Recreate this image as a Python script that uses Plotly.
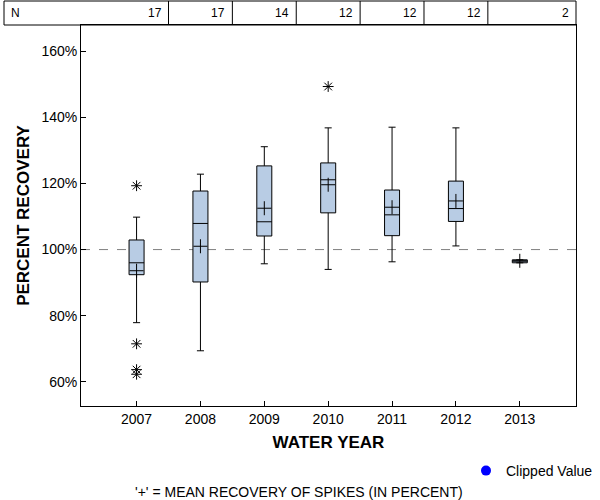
import plotly.graph_objects as go

years = ["2007", "2008", "2009", "2010", "2011", "2012", "2013"]
n_counts = [17, 17, 14, 12, 12, 12, 2]
q1 = [92.4, 90.2, 104.1, 111.1, 104.2, 108.5, 96.0]
median = [96.0, 107.9, 108.4, 121.1, 110.5, 112.4, 96.5]
q3 = [102.9, 117.7, 125.3, 126.2, 118.0, 120.7, 96.9]
lower = [77.9, 69.4, 95.7, 94.0, 96.3, 101.1, 96.0]
upper = [109.8, 122.8, 131.1, 136.8, 137.0, 136.8, 96.9]
means = [93.6, 101.0, 112.5, 119.6, 112.8, 114.7, 96.6]
outlier_years = ["2007", "2007", "2007", "2007", "2010"]
outlier_vals = [119.3, 71.5, 63.7, 62.3, 149.3]
y_ticks = [60, 80, 100, 120, 140, 160]
y_tick_labels = ["60%", "80%", "100%", "120%", "140%", "160%"]

FONT = "Liberation Sans, Arial, sans-serif"
XR = [-0.87, 6.88]
YR = [52.7, 167.9]
ML, MR, MT, MB = 81, 24, 25, 94
PW, PH = 600 - ML - MR, 500 - MT - MB


def px_x(p):
    return (p - ML) / PW


def px_y(p):
    return (500 - MB - p) / PH


fig = go.Figure()
fig.add_trace(go.Box(
    x=years, q1=q1, median=median, q3=q3,
    lowerfence=lower, upperfence=upper,
    fillcolor="#b8cce4", line=dict(color="black", width=1),
    width=0.235, whiskerwidth=0.47, boxpoints=False,
    showlegend=False,
))
fig.add_trace(go.Scatter(
    x=years, y=means, mode="markers", showlegend=False,
    marker=dict(symbol="cross-thin", size=10, color="black",
                line=dict(color="black", width=1)),
))
fig.add_trace(go.Scatter(
    x=outlier_years, y=outlier_vals, mode="markers", showlegend=False,
    marker=dict(symbol="asterisk-open", size=9, color="black",
                line=dict(color="black", width=1)),
))
fig.add_trace(go.Scatter(
    x=[None], y=[None], mode="markers", name="Clipped Value",
    marker=dict(symbol="circle", size=10, color="blue"),
))

shapes = [
    dict(type="line", xref="paper", yref="y", x0=0, x1=1, y0=100, y1=100,
         line=dict(color="#808080", width=1, dash="dash"), layer="below"),
    dict(type="rect", xref="paper", yref="paper", x0=px_x(4), x1=1,
         y0=1, y1=px_y(1), line=dict(color="black", width=1)),
]
annotations = [
    dict(text="N", xref="paper", yref="paper", x=px_x(9), y=px_y(13),
         xanchor="left", yanchor="middle", showarrow=False,
         font=dict(family=FONT, size=12, color="black")),
]
span = XR[1] - XR[0]
for i, n in enumerate(n_counts):
    right = (i + 0.5 - XR[0]) / span if i < len(n_counts) - 1 else 1.0
    if i < len(n_counts) - 1:
        shapes.append(dict(type="line", xref="paper", yref="paper",
                           x0=right, x1=right, y0=1, y1=px_y(1),
                           line=dict(color="black", width=1)))
    annotations.append(dict(text=str(n), xref="paper", yref="paper",
                            x=right, y=px_y(13), xanchor="right",
                            yanchor="middle", xshift=-5, showarrow=False,
                            font=dict(family=FONT, size=12, color="black")))
annotations.append(dict(
    text="'+' = MEAN RECOVERY OF SPIKES (IN PERCENT)", xref="paper",
    yref="paper", x=px_x(299), y=px_y(492), xanchor="center",
    yanchor="middle", showarrow=False,
    font=dict(family=FONT, size=14, color="black")))

fig.update_layout(
    width=600, height=500,
    margin=dict(l=ML, r=MR, t=MT, b=MB, autoexpand=False),
    paper_bgcolor="white", plot_bgcolor="white",
    font=dict(family=FONT, size=14, color="black"),
    shapes=shapes, annotations=annotations,
    legend=dict(x=px_x(466), y=px_y(455), xanchor="left", yanchor="top",
                bgcolor="rgba(0,0,0,0)", font=dict(family=FONT, size=14)),
    xaxis=dict(
        type="category", range=XR, showline=True, mirror=True,
        linecolor="black", linewidth=1, ticks="inside", ticklen=5,
        tickcolor="black", showgrid=False, zeroline=False, automargin=False,
        tickfont=dict(family=FONT, size=14),
        title=dict(text="<b>WATER YEAR</b>", standoff=10,
                   font=dict(family=FONT, size=17)),
    ),
    yaxis=dict(
        range=YR, tickvals=y_ticks, ticktext=y_tick_labels,
        showline=True, mirror=True, linecolor="black", linewidth=1,
        ticks="inside", ticklen=5, tickcolor="black", showgrid=False,
        zeroline=False, automargin=False, tickfont=dict(family=FONT, size=14),
        title=dict(text="<b>PERCENT RECOVERY</b>", standoff=7,
                   font=dict(family=FONT, size=17)),
    ),
)

fig.write_html("out.html", config={"displayModeBar": False},
               post_script="document.body.style.margin='0';")
